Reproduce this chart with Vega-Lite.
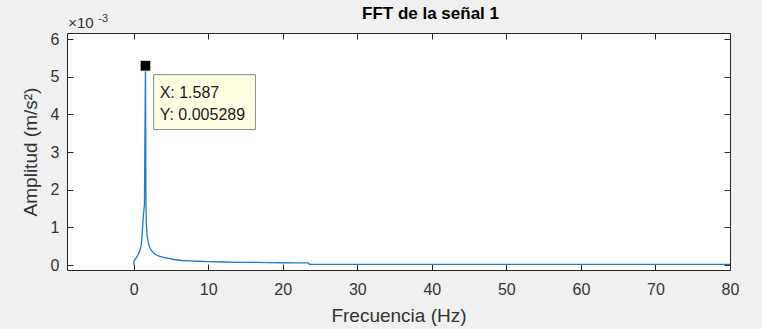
{
  "$schema": "https://vega.github.io/schema/vega-lite/v6.json",
  "width": 663,
  "height": 237,
  "autosize": "none",
  "padding": {"left": 67, "top": 33, "right": 32, "bottom": 59},
  "background": "#f0f0f0",
  "title": {"text": "FFT de la señal 1", "font": "Liberation Sans", "fontSize": 17, "fontWeight": "bold", "color": "#000000", "anchor": "middle", "frame": "group", "dx": 32, "offset": -10},
  "config": {
    "view": {"fill": "#ffffff", "stroke": null},
    "axis": {"grid": false, "domainColor": "#262626", "domainWidth": 1, "tickColor": "#262626", "tickSize": -6, "labelFont": "Liberation Sans", "labelFontSize": 16, "labelColor": "#333333", "titleFont": "Liberation Sans", "titleFontSize": 19, "titleFontWeight": "normal", "titleColor": "#333333"}
  },
  "datasets": {
    "fft": [
      {"f": 0, "a": 0.00001}, {"f": 0.06, "a": 0.00012}, {"f": 0.25, "a": 0.00016}, {"f": 0.45, "a": 0.00022},
      {"f": 0.65, "a": 0.0003}, {"f": 0.85, "a": 0.0004}, {"f": 1.0, "a": 0.00052}, {"f": 1.1, "a": 0.0007},
      {"f": 1.2, "a": 0.001}, {"f": 1.3, "a": 0.0013}, {"f": 1.45, "a": 0.0016}, {"f": 1.587, "a": 0.005289},
      {"f": 1.65, "a": 0.0016}, {"f": 1.72, "a": 0.00105}, {"f": 1.8, "a": 0.0008}, {"f": 1.95, "a": 0.0006},
      {"f": 2.15, "a": 0.00047}, {"f": 2.4, "a": 0.00038}, {"f": 2.8, "a": 0.0003}, {"f": 3.3, "a": 0.00024},
      {"f": 4, "a": 0.0002}, {"f": 4.8, "a": 0.00017}, {"f": 5.6, "a": 0.00014}, {"f": 6.5, "a": 0.00012},
      {"f": 7.5, "a": 0.00011}, {"f": 8.5, "a": 0.0001}, {"f": 10, "a": 0.00009}, {"f": 12, "a": 0.00008},
      {"f": 14, "a": 0.000072}, {"f": 16, "a": 0.000068}, {"f": 18, "a": 0.000064}, {"f": 20, "a": 0.00006},
      {"f": 22, "a": 0.000057}, {"f": 23.4, "a": 0.000055}, {"f": 23.6, "a": 0.00002}, {"f": 26, "a": 0.000019},
      {"f": 30, "a": 0.000018}, {"f": 35, "a": 0.000018}, {"f": 40, "a": 0.000017}, {"f": 45, "a": 0.000017},
      {"f": 50, "a": 0.000016}, {"f": 55, "a": 0.000016}, {"f": 60, "a": 0.000016}, {"f": 65, "a": 0.000015},
      {"f": 70, "a": 0.000015}, {"f": 75, "a": 0.000015}, {"f": 80, "a": 0.000015}
    ],
    "tipbox": [{"x1": 2.68, "x2": 16.34, "y1": 0.003597, "y2": 0.005054}],
    "tiptext": [{"f": 3.49, "a": 0.004437, "label": "X: 1.587"}, {"f": 3.49, "a": 0.003843, "label": "Y: 0.005289"}],
    "marker": [{"f": 1.587, "a": 0.005289}],
    "expbase": [{"f": -8.77, "a": 0.0063, "label": "×10"}],
    "exppow": [{"f": -4.74, "a": 0.00646, "label": "-3"}]
  },
  "resolve": {"axis": {"x": "independent", "y": "independent"}},
  "layer": [
    {
      "data": {"name": "fft"},
      "mark": {"type": "line", "color": "#1a7dc8", "strokeWidth": 1.3, "clip": true},
      "encoding": {
        "x": {"field": "f", "type": "quantitative", "scale": {"domain": [-8.94, 80], "nice": false, "zero": false},
              "axis": {"orient": "bottom", "values": [0, 10, 20, 30, 40, 50, 60, 70, 80], "labelPadding": 17, "title": "Frecuencia (Hz)", "titlePadding": 9, "labelFlush": false}},
        "y": {"field": "a", "type": "quantitative", "scale": {"domain": [-0.0001325, 0.00616], "nice": false, "zero": false},
              "axis": {"orient": "left", "values": [0, 0.001, 0.002, 0.003, 0.004, 0.005, 0.006], "labelExpr": "format(datum.value*1000, 'd')", "labelPadding": 14, "title": "Amplitud (m/s²)", "titlePadding": 10, "labelFlush": false}}
      }
    },
    {
      "data": {"name": "fft"},
      "mark": {"type": "line", "opacity": 0},
      "encoding": {
        "x": {"field": "f", "type": "quantitative", "axis": {"orient": "top", "values": [0, 10, 20, 30, 40, 50, 60, 70, 80], "labels": false, "title": null}},
        "y": {"field": "a", "type": "quantitative", "axis": {"orient": "right", "values": [0, 0.001, 0.002, 0.003, 0.004, 0.005, 0.006], "labels": false, "title": null}}
      }
    },
    {
      "data": {"name": "tipbox"},
      "mark": {"type": "rect", "fill": "#ffffe1", "stroke": "#8c8c8c", "strokeWidth": 1},
      "encoding": {
        "x": {"field": "x1", "type": "quantitative", "axis": null},
        "x2": {"field": "x2"},
        "y": {"field": "y1", "type": "quantitative", "axis": null},
        "y2": {"field": "y2"}
      }
    },
    {
      "data": {"name": "tiptext"},
      "mark": {"type": "text", "font": "Liberation Sans", "fontSize": 16, "color": "#1a1a1a", "align": "left", "baseline": "alphabetic"},
      "encoding": {
        "x": {"field": "f", "type": "quantitative", "axis": null},
        "y": {"field": "a", "type": "quantitative", "axis": null},
        "text": {"field": "label"}
      }
    },
    {
      "data": {"name": "marker"},
      "mark": {"type": "point", "shape": "square", "filled": true, "size": 110, "color": "#000000", "stroke": "#f5f0c8", "strokeWidth": 0.8, "opacity": 1},
      "encoding": {
        "x": {"field": "f", "type": "quantitative", "axis": null},
        "y": {"field": "a", "type": "quantitative", "axis": null}
      }
    },
    {
      "data": {"name": "expbase"},
      "mark": {"type": "text", "font": "Liberation Sans", "fontSize": 15, "color": "#333333", "align": "left", "baseline": "alphabetic", "clip": false},
      "encoding": {
        "x": {"field": "f", "type": "quantitative", "axis": null},
        "y": {"field": "a", "type": "quantitative", "axis": null},
        "text": {"field": "label"}
      }
    },
    {
      "data": {"name": "exppow"},
      "mark": {"type": "text", "font": "Liberation Sans", "fontSize": 11, "color": "#333333", "align": "left", "baseline": "alphabetic", "clip": false},
      "encoding": {
        "x": {"field": "f", "type": "quantitative", "axis": null},
        "y": {"field": "a", "type": "quantitative", "axis": null},
        "text": {"field": "label"}
      }
    }
  ]
}
